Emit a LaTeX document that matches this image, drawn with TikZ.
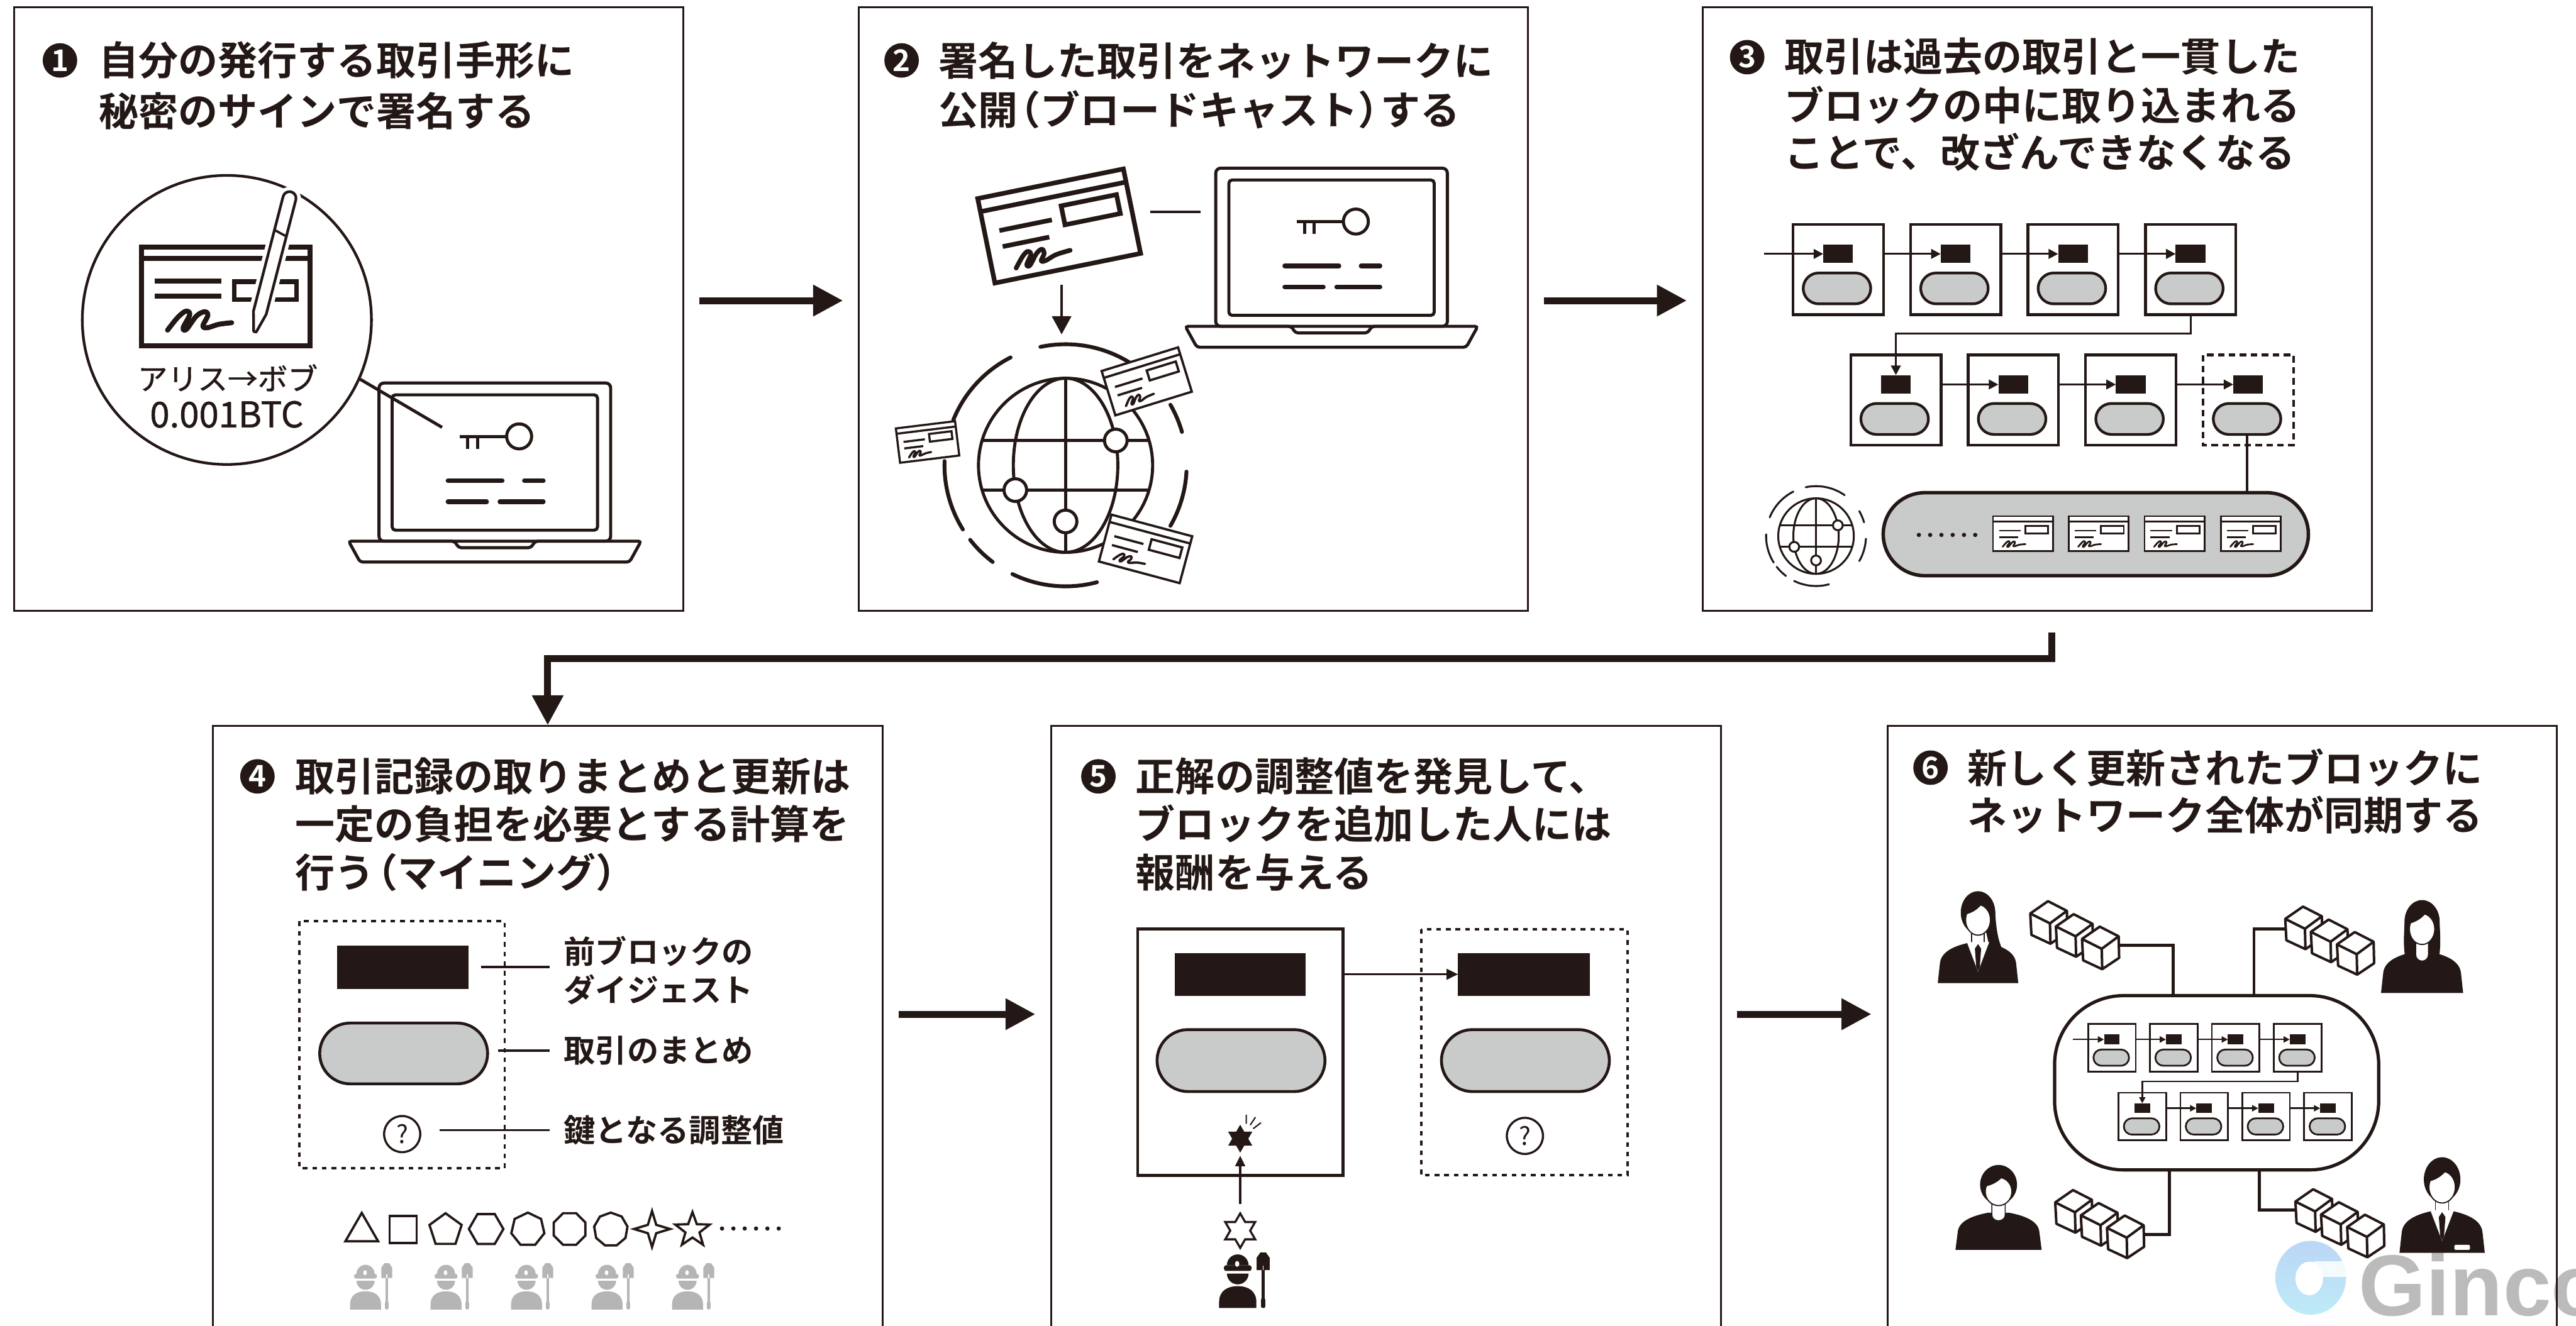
\documentclass[tikz,border=0pt]{standalone}
\usepackage{fontspec}
\setmainfont{Noto Sans CJK JP}[BoldFont={Noto Sans CJK JP Bold}]
\newfontfamily\medfont{Noto Sans CJK JP}[FakeBold=0.9]
\newfontfamily\logofont{Liberation Sans}
\usetikzlibrary{arrows.meta,calc}

\definecolor{ink}{HTML}{231815}
\definecolor{pillgray}{HTML}{C9CACA}
\definecolor{minergray}{HTML}{B5B5B5}
\definecolor{logogray}{HTML}{BBBBBB}
\definecolor{logoblueA}{HTML}{BCD6F6}
\definecolor{logoblueB}{HTML}{BDEBF7}

\tikzset{
  panel/.style={draw=ink,line width=1pt,inner sep=0,rectangle},
  bigarrow/.style={draw=ink,line width=3.6pt,-{Triangle[length=15.5pt,width=15.5pt]}},
  badge/.style={circle,fill=ink,text=white,inner sep=0,minimum size=6.3mm,
    font=\bfseries\fontsize{15.5}{16}\selectfont},
  titletext/.style={anchor=west,inner sep=0,text=ink,font=\bfseries\fontsize{20.6}{24}\selectfont},
  labeltext/.style={anchor=west,inner sep=0,text=ink,font=\bfseries\fontsize{16.4}{20}\selectfont},
  leader/.style={draw=ink,line width=1.2pt},
  qmark/.style={circle,draw=ink,line width=1.1pt,minimum size=6.6mm,inner sep=0,
    font=\fontsize{13}{13}\selectfont,text=ink},
  dotbox/.style={draw=ink,line width=1.3pt,dash pattern=on 2.4pt off 2.6pt},
  thinarrow/.style={draw=ink,line width=1.1pt,-{Triangle[length=6pt,width=5.5pt]}},
  link/.style={draw=ink,line width=1.6pt},
}

% narrower brackets inside headings
\newcommand{\lpar}{\kern-0.42em（}
\newcommand{\rpar}{）\kern-0.42em}

% stadium shape between (x1,y1) and (x2,y2)
\newcommand{\pillpath}[4]{({#1+(#4-#2)/2},#2) -- ({#3-(#4-#2)/2},#2)
  arc[start angle=-90,end angle=90,radius={(#4-#2)/2}] -- ({#1+(#4-#2)/2},#4)
  arc[start angle=90,end angle=270,radius={(#4-#2)/2}] -- cycle}

% laptop with key on screen; origin = top left of the lid
\newcommand{\laptopicon}[2]{%
  \begin{scope}[shift={(#1,#2)},line width=1.6pt]
    \draw[rounded corners=0.9mm] (0,0) rectangle (141,96.3);
    \draw[rounded corners=0.6mm] (8,7.2) rectangle (133,89.6);
    \draw[rounded corners=0.5mm] (-18.5,96.3) -- (46,96.3) -- (48.5,100.3) -- (92.5,100.3)
      -- (95,96.3) -- (159.5,96.3) -- (152.5,109) -- (-11.5,109) -- cycle;
    \draw (85.3,32.5) circle[radius=7.6];
    \draw (49.3,32.5) -- (77.7,32.5);
    \draw (54,32.5) -- (54,40) (60,32.5) -- (60,40);
    \draw[line width=2.4pt,line cap=round] (42,59.5) -- (75,59.5) (88.5,59.5) -- (100,59.5)
      (42,72.3) -- (65.5,72.3) (73.6,72.3) -- (100,72.3);
  \end{scope}}

% signed bill: centre, rotation, scale, line width
\newcommand{\cardicon}[5]{%
  \begin{scope}[shift={(#1,#2)},rotate=#3,scale=#4,line width=#5]
    \filldraw[fill=white] (-50,-29) rectangle (50,29);
    \draw (-50,-20) -- (50,-20);
    \draw (-40,-5) -- (-4,-5);
    \draw (-40,6) -- (-8,6);
    \draw (4,-13) rectangle (42,0);
    \draw[line cap=round,line join=round] plot[smooth,tension=0.6] coordinates
      {(-34,22) (-28,15) (-24,12.5) (-22.5,15) (-26.5,21) (-24.5,22) (-18.5,15)
       (-14.5,13) (-13.5,16) (-16.5,20.5) (-13.5,21) (-6,18.5) (4,17.5)};
  \end{scope}}

% globe with broken ring: centre, radius, ring radius, line width, ring width
\newcommand{\globeicon}[6]{%
  \begin{scope}[shift={(#1,#2)}]
    \foreach \a/\b in {-102/-55,-158/-117,-212/-178,-233/-218,-285/-244,-357/-330,-30/-16}
      \draw[line width=#6,line cap=round] (\a:#4) arc[start angle=\a,end angle=\b,radius=#4];
    \filldraw[fill=white,line width=#5] (0,0) circle[radius=#3];
    \draw[line width=#5] (0,0) ellipse ({0.6*#3} and #3);
    \draw[line width=#5] (0,-#3) -- (0,#3);
    \draw[line width=#5] ({-0.958*#3},{-0.285*#3}) -- ({0.958*#3},{-0.285*#3})
      ({-0.958*#3},{0.285*#3}) -- ({0.958*#3},{0.285*#3});
    \filldraw[fill=white,line width=#5] ({0.577*#3},{-0.285*#3}) circle[radius={0.13*#3}]
      ({-0.577*#3},{0.285*#3}) circle[radius={0.13*#3}] (0,{0.645*#3}) circle[radius={0.13*#3}];
  \end{scope}}

% two-row block chain: origin, scale, block width, arrow width, tip size, style of last block
\newcommand{\chainfig}[7]{%
  \begin{scope}[shift={(#1,#2)},scale=#3]
    \foreach \i in {0,1,2,3} {
      \draw[line width=#4] ({71.5*\i},0) rectangle ({71.5*\i+55},55);
      \fill ({71.5*\i+18.4},12.3) rectangle ({71.5*\i+36.5},23.6);
      \filldraw[fill=pillgray,line width=#4] \pillpath{71.5*\i+6.2}{29.6}{71.5*\i+47.3}{48.4};
      \ifnum\i<3
        \draw[line width=#4] ({35.1+71.5*\i},79.5) rectangle ({35.1+71.5*\i+55},134.5);
      \else
        \draw[line width=#4,#7] ({35.1+71.5*\i},79.5) rectangle ({35.1+71.5*\i+55},134.5);
      \fi
      \fill ({35.1+71.5*\i+18.4},91.8) rectangle ({35.1+71.5*\i+36.5},103.1);
      \filldraw[fill=pillgray,line width=#4] \pillpath{35.1+71.5*\i+6.2}{109.1}{35.1+71.5*\i+47.3}{127.9};
    }
    \draw[line width=#5,-{Triangle[length=#6,width=#6]}] (-17.6,18) -- (18.4,18);
    \foreach \i in {1,2,3} {
      \draw[line width=#5,-{Triangle[length=#6,width=#6]}] ({71.5*\i-16.5},18) -- ({71.5*\i+18.4},18);
      \draw[line width=#5,-{Triangle[length=#6,width=#6]}] ({35.1+71.5*\i-16.5},97.5) -- ({35.1+71.5*\i+18.4},97.5);
    }
    \draw[line width=#5,-{Triangle[length=#6,width=#6]}] (242,55) -- (242,66.5) -- (62.6,66.5) -- (62.6,91.8);
  \end{scope}}

% one server cube, origin = top corner
\newcommand{\cubeone}[2]{%
  \begin{scope}[shift={(#1,#2)}]
    \filldraw[fill=white] (0,0) -- (11.5,5.9) -- (11.8,19) -- (1.5,25.9) -- (-10.1,20.5) -- (-10.8,7.5) -- cycle;
    \draw (-10.8,7.5) -- (1.2,13.5) -- (11.5,5.9) (1.2,13.5) -- (1.5,25.9);
  \end{scope}}
\newcommand{\cubestack}[2]{%
  \begin{scope}[shift={(#1,#2)},line width=1.3pt,line join=round]
    \cubeone{0}{0}\cubeone{15.6}{7.9}\cubeone{31.5}{15.5}
  \end{scope}}

% person: head top centre, xscale, yscale, variant (1 suit+long hair, 2 long hair, 3 plain, 4 suit)
\newcommand{\personicon}[5]{%
  \begin{scope}[shift={(#1,#2)},xscale=#3,yscale=#4]
    \ifcase#5\or
      \fill (2,12) -- (10.4,12) .. controls (11,24) and (12.5,31) .. (15.5,37) -- (7,34) -- cycle;
    \or
      \fill (-10.4,13) .. controls (-11.2,26) and (-11,33) .. (-9,37.5) -- (9,37.5)
        .. controls (11,33) and (11.2,26) .. (10.4,13) -- cycle;
    \fi
    \fill (-24.5,56) -- (-23.2,44) .. controls (-22.5,37) and (-15,33.5) .. (-6,31.5) -- (6,31.5)
      .. controls (15,33.5) and (22.5,37) .. (23.2,44) -- (24.5,56) -- cycle;
    \fill (0,13) ellipse (10.5 and 13);
    \ifcase#5\or
      \filldraw[fill=white,line width=0.5pt] (-3.8,22) rectangle (3.8,31.8);
      \fill[white] (-6.8,31) -- (0,49) -- (6.8,31) -- cycle;
      \fill (0,32.2) -- (-1.9,35) -- (-1.1,46) -- (0,48.8) -- (1.1,46) -- (1.9,35) -- cycle;
    \or
      \filldraw[fill=white,line width=0.5pt] (-3.8,22) -- (-3.8,33) arc[start angle=180,end angle=0,radius=3.8] -- (3.8,22) -- cycle;
    \or
      \filldraw[fill=white,line width=0.5pt] (-3.8,22) -- (-3.8,33) arc[start angle=180,end angle=0,radius=3.8] -- (3.8,22) -- cycle;
    \or
      \filldraw[fill=white,line width=0.5pt] (-3.8,22) rectangle (3.8,31.8);
      \fill[white] (-6.8,31) -- (0,49) -- (6.8,31) -- cycle;
      \fill (0,32.2) -- (-1.9,35) -- (-1.1,46) -- (0,48.8) -- (1.1,46) -- (1.9,35) -- cycle;
      \fill[white,rounded corners=0.25mm] (7,51.3) rectangle (16,54.2);
    \fi
    \filldraw[fill=white,line width=0.6pt] (0,17.5) ellipse (7.6 and 9.3);
    \begin{scope}
      \clip (0,17.5) ellipse (7.6 and 9.3);
      \fill (-9,5) -- (-9,14.5) .. controls (-3,13.5) and (2,10) .. (4.5,4) -- (4.5,0) -- cycle;
    \end{scope}
  \end{scope}}

% miner with helmet and shovel: body centre at bottom, scale, colour
\newcommand{\minericon}[4]{%
  \begin{scope}[shift={(#1,#2)},scale=#3]
    \fill[#4] (-9.45,0) -- (-9.45,-3) .. controls (-9.45,-8.5) and (-5.5,-11.1) .. (0,-11.1)
      .. controls (5.5,-11.1) and (9.45,-8.5) .. (9.45,-3) -- (9.45,0) -- cycle;
    \fill[#4] (5.5,-17.5) arc[start angle=0,end angle=180,radius=5.5] -- cycle;
    \fill[#4,rounded corners=0.4mm] (-7,-21.7) rectangle (7,-18.8);
    \fill[#4] (-5.5,-21.7) arc[start angle=180,end angle=360,radius=5.5] -- cycle;
    \fill[white] (-0.3,-22.4) ellipse (1.1 and 1.5);
    \fill[#4] (9.6,-19.2) -- (9.6,-25.5) -- (11.5,-28.2) -- (14.3,-28.2) -- (16.2,-25.5) -- (16.2,-19.2) -- cycle;
    \fill[#4] (12.05,-20) rectangle (13.75,-4);
    \fill[#4,rounded corners=0.3mm] (11.8,-5) rectangle (14,0);
    \fill[white] (12.6,-21.5) rectangle (13.2,-19.2);
  \end{scope}}

% regular polygon: centre, sides, radius, start angle, last index
\newcommand{\polyicon}[6]{%
  \draw[line width=1.2pt,line join=miter] plot[variable=\k,samples at={0,...,#6}]
    ({#1+#4*cos(#5+\k*360/#3)},{#2+#4*sin(#5+\k*360/#3)}) -- cycle;}
% star: centre, points, outer, inner, last index, style
\newcommand{\staricon}[7]{%
  \path[#7] plot[variable=\k,samples at={0,...,#6}]
    ({#1+ifthenelse(mod(\k,2)==0,#4,#5)*cos(-90+\k*180/#3)},
     {#2+ifthenelse(mod(\k,2)==0,#4,#5)*sin(-90+\k*180/#3)}) -- cycle;}

\begin{document}
\begin{tikzpicture}[x=0.3mm,y=-0.3mm,color=ink,line join=miter]
\useasboundingbox (0,0) rectangle (1568,807);
\fill[white] (0,0) rectangle (1568,807);
\clip (0,0) rectangle (1568,807);

% ---------- company mark (behind everything) ----------
\shade[top color=logoblueA,bottom color=logoblueB] (1406.5,778) ellipse (21.5 and 22.5);
\begin{scope}
  \clip (1406.5,778) ellipse (21.5 and 22.5);
  \fill[white!82!logoblueB] (1408,768) rectangle (1430,777.6);
\end{scope}
\fill[white] (1405.6,778.4) ellipse (8.4 and 10.2);
\node[anchor=base west,inner sep=0,text=logogray,
  font=\logofont\bfseries\fontsize{45}{45}\selectfont] (ginco) at (1435.5,801) {Ginco};

% ---------- panels ----------
\node[panel,minimum width=122.13mm,minimum height=110.25mm] (p1) at (212.25,188.25) {};
\node[panel,minimum width=122.13mm,minimum height=110.25mm] (p2) at (726.45,188.25) {};
\node[panel,minimum width=122.13mm,minimum height=110.25mm] (p3) at (1240.05,188.25) {};
\node[panel,minimum width=122.22mm,minimum height=122.37mm] (p4) at (333.4,646.05) {};
\node[panel,minimum width=122.22mm,minimum height=122.37mm] (p5) at (843.7,646.05) {};
\node[panel,minimum width=122.22mm,minimum height=122.37mm] (p6) at (1352.6,646.05) {};

% ---------- flow arrows ----------
\draw[bigarrow] ($(p1.east)+(9.2,-5.25)$) -- ($(p2.west)+(-9.2,-5.25)$);
\draw[bigarrow] ($(p2.east)+(9.2,-5.25)$) -- ($(p3.west)+(-9.2,-5.25)$);
\draw[bigarrow] ($(p4.east)+(9.2,-28.55)$) -- ($(p5.west)+(-9.2,-28.55)$);
\draw[bigarrow] ($(p5.east)+(9.2,-28.55)$) -- ($(p6.west)+(-9.2,-28.55)$);
\coordinate (drop) at ($(p3.south)+(8.95,12.4)$);
\draw[bigarrow] (drop) -- ++(0,16) -| (p4.north);

% ---------- headings ----------
\node[badge] (b1) at (36.5,36.8) {1};
\node[titletext] (t1a) at (60,36.8) {自分の発行する取引手形に};
\node[titletext] (t1b) at (60,67.5) {秘密のサインで署名する};
\node[badge] (b2) at (548.8,36.8) {2};
\node[titletext] (t2a) at (571,36.8) {署名した取引をネットワークに};
\node[titletext] (t2b) at (571,66.8) {公開\lpar ブロードキャスト\rpar する};
\node[badge] (b3) at (1063.5,34.8) {3};
\node[titletext] (t3a) at (1086,34.3) {取引は過去の取引と一貫した};
\node[titletext] (t3b) at (1086,63.8) {ブロックの中に取り込まれる};
\node[titletext] (t3c) at (1086,92.7) {ことで、改ざんできなくなる};
\node[badge] (b4) at (156.7,472.7) {4};
\node[titletext] (t4a) at (179.5,472.7) {取引記録の取りまとめと更新は};
\node[titletext] (t4b) at (179.5,501.5) {一定の負担を必要とする計算を};
\node[titletext] (t4c) at (179.5,531) {行う\lpar マイニング）};
\node[badge] (b5) at (668.6,472.7) {5};
\node[titletext] (t5a) at (691.1,472.7) {正解の調整値を発見して、};
\node[titletext] (t5b) at (691.1,501.7) {ブロックを追加した人には};
\node[titletext] (t5c) at (691.1,531) {報酬を与える};
\node[badge] (b6) at (1175.1,467.4) {6};
\node[titletext] (t6a) at (1197.3,467.4) {新しく更新されたブロックに};
\node[titletext] (t6b) at (1197.3,496) {ネットワーク全体が同期する};

% ---------- panel 1: signing ----------
\node[circle,draw=ink,line width=1.4pt,minimum size=52.8mm,inner sep=0] (zoomc) at (138.1,194.8) {};
\begin{scope}[line width=2.6pt]
  \draw (86.2,150.4) rectangle (188.7,210.5);
  \draw (86.2,157.2) -- (188.7,157.2);
  \draw (94.1,171.3) -- (134.7,171.3) (94.1,180.4) -- (134.7,180.4);
  \draw[line width=2.3pt] (142.5,171.5) rectangle (180.5,182.5);
  \draw[line cap=round,line join=round] plot[smooth,tension=0.6] coordinates
    {(102,201) (108,193.5) (113,189.5) (115.5,191.5) (111.5,199.5) (113.5,200.5) (119.5,192.5)
     (124.5,189.8) (126.5,192) (123.5,198.5) (126.5,199.5) (133,197.5) (141,196.5)};
\end{scope}
\begin{scope}[shift={(177.2,116.8)},rotate=-14.5]
  \draw[white,line width=5pt] (-4,4) arc[start angle=180,end angle=360,radius=4] -- (4,76)
    -- (0.8,88) -- (-0.8,88) -- (-4,76) -- cycle;
  \filldraw[fill=white,line width=1.4pt,line join=round] (-4,4) arc[start angle=180,end angle=360,radius=4]
    -- (4,76) -- (0.8,88) -- (-0.8,88) -- (-4,76) -- cycle;
  \draw[line width=1.2pt] (-4,25) -- (4,27);
\end{scope}
\node[inner sep=0,font=\medfont\fontsize{15.6}{16}\selectfont] (alice) at (138.6,230) {アリス→ボブ};
\node[inner sep=0,font=\medfont\fontsize{18.4}{19}\selectfont] (amount) at (138,252.3) {0.001BTC};
\laptopicon{230.7}{233.2}
\coordinate (keyp) at (269.1,260.2);
\draw[line width=1.6pt] (zoomc.-24.1) -- (keyp);

% ---------- panel 2: broadcast ----------
\cardicon{644.7}{137.6}{11.5}{0.905}{2.4pt}
\laptopicon{740}{102.4}
\coordinate (c2a) at (700,128.9);
\coordinate (c2b) at (730.6,128.9);
\draw[line width=1.2pt] (c2a) -- (c2b);
\coordinate (d2a) at (646.2,173.4);
\coordinate (d2b) at (646.2,203.6);
\draw[line width=1.2pt,-{Triangle[length=9.5pt,width=10pt]}] (d2a) -- (d2b);
\globeicon{648.6}{283.3}{53}{73.7}{1.6pt}{2pt}
\cardicon{698}{232.2}{17.2}{0.487}{1.2pt}
\cardicon{564.6}{269.1}{7}{0.363}{1.1pt}
\cardicon{697.3}{334.2}{-15}{0.509}{1.2pt}

% ---------- panel 3: chain ----------
\chainfig{1091.4}{136.6}{1}{1.4pt}{1pt}{5pt}{dashed,dash pattern=on 3.4pt off 2.3pt}
\draw[line width=1.4pt] (1367.8,264.5) -- (1367.8,300);
\filldraw[fill=pillgray,line width=1.8pt] \pillpath{1146.3}{300}{1405.1}{350.5};
\foreach \k in {0,...,5} \fill ({1168+6.86*\k},325.7) circle[radius=1.3];
\foreach \cx in {1231.4,1277.4,1323.6,1370} {\cardicon{\cx}{324.9}{0}{0.365}{0.9pt}}
\globeicon{1105.4}{326.4}{23}{30.4}{1pt}{1pt}

% ---------- panel 4: mining ----------
\draw[dotbox] (182.2,561) rectangle (307.2,711.2);
\fill (205,575.8) rectangle (285.2,602.2);
\filldraw[fill=pillgray,line width=1.5pt] \pillpath{194.6}{622.9}{296.8}{659.9};
\node[qmark] (q4) at (244.8,690.5) {?};
\draw[leader] (293,588.8) -- (334.7,588.8);
\draw[leader] (303.1,639.8) -- (334.7,639.8);
\draw[leader] (267.4,688.1) -- (334.7,688.1);
\node[labeltext] (l4a) at (343,579.3) {前ブロックの};
\node[labeltext] (l4b) at (343,602.7) {ダイジェスト};
\node[labeltext] (l4c) at (343,639.8) {取引のまとめ};
\node[labeltext] (l4d) at (343,688.1) {鍵となる調整値};
\polyicon{220.2}{750}{3}{11.5}{-90}{2}
\polyicon{245.4}{748.6}{4}{11.6}{-45}{3}
\polyicon{271.2}{749}{5}{10.3}{-90}{4}
\polyicon{295.9}{748.3}{6}{10.5}{0}{5}
\polyicon{321.3}{748.6}{7}{10.3}{-90}{6}
\polyicon{346.7}{748.3}{8}{10.4}{-22.5}{7}
\polyicon{371.8}{748.6}{9}{10.3}{-90}{8}
\staricon{396.9}{748.3}{4}{11}{3.6}{7}{draw,line width=1.2pt,line join=miter}
\staricon{421.5}{749}{5}{11}{4.5}{9}{draw,line width=1.2pt,line join=miter}
\foreach \k in {0,...,5} \fill ({439.5+6.9*\k},748) circle[radius=1.3];
\foreach \k in {0,...,4} {\minericon{222.5+49*\k}{797.3}{1}{minergray}}

% ---------- panel 5: reward ----------
\draw[line width=1.5pt] (692.5,565.7) rectangle (817.5,715.6);
\draw[dotbox] (865,565.7) rectangle (990.6,715.6);
\fill (715,580.3) rectangle (794.7,606.2);
\fill (887.5,580.3) rectangle (967.8,606.2);
\filldraw[fill=pillgray,line width=1.5pt] \pillpath{704.3}{626.9}{806.5}{664.6};
\filldraw[fill=pillgray,line width=1.5pt] \pillpath{877.4}{626.9}{979.6}{664.6};
\coordinate (h5a) at (817.5,593.2);
\coordinate (h5b) at (887.5,593.2);
\draw[thinarrow] (h5a) -- (h5b);
\node[qmark] (q5) at (928.2,691.6) {?};
\staricon{754.9}{693.3}{6}{8.5}{4.9}{11}{fill=ink}
\draw[line width=0.7pt] (758.6,684.2) -- (758.6,678.8) (761,685) -- (764.2,680.2) (762.8,687.2) -- (767.5,683.6);
\coordinate (u5a) at (754.9,733);
\coordinate (u5b) at (754.9,703.6);
\draw[line width=1.2pt,-{Triangle[length=5.5pt,width=5pt]}] (u5a) -- (u5b);
\staricon{754.9}{749.3}{6}{10.5}{6.06}{11}{draw,fill=white,line width=1.1pt,line join=miter}
\minericon{753.4}{796.4}{1.2}{ink}

% ---------- panel 6: network sync ----------
\draw[link] (1322.7,606.2) |- (1289.6,575.6);
\draw[link] (1372,606.2) |- (1391,565.7);
\draw[link] (1320.5,712.3) |- (1304.8,751.7);
\draw[link] (1375.3,712.3) |- (1397.2,736.8);
\draw[line width=1.7pt,rounded corners=12.6mm,fill=white] (1250.6,606.2) rectangle (1447.9,712.3);
\chainfig{1271}{623.4}{0.527}{0.9pt}{0.8pt}{3.2pt}{solid}
\cubestack{1246.6}{548.7}
\cubestack{1401.8}{552}
\cubestack{1261.8}{724.6}
\cubestack{1408}{724.1}
\personicon{1204}{542.6}{1}{1}{1}
\personicon{1474.3}{548}{1.02}{1.01}{2}
\personicon{1216.5}{709.3}{1.07}{0.923}{3}
\personicon{1486.5}{704.6}{1.06}{1.04}{4}
\end{tikzpicture}
\end{document}
